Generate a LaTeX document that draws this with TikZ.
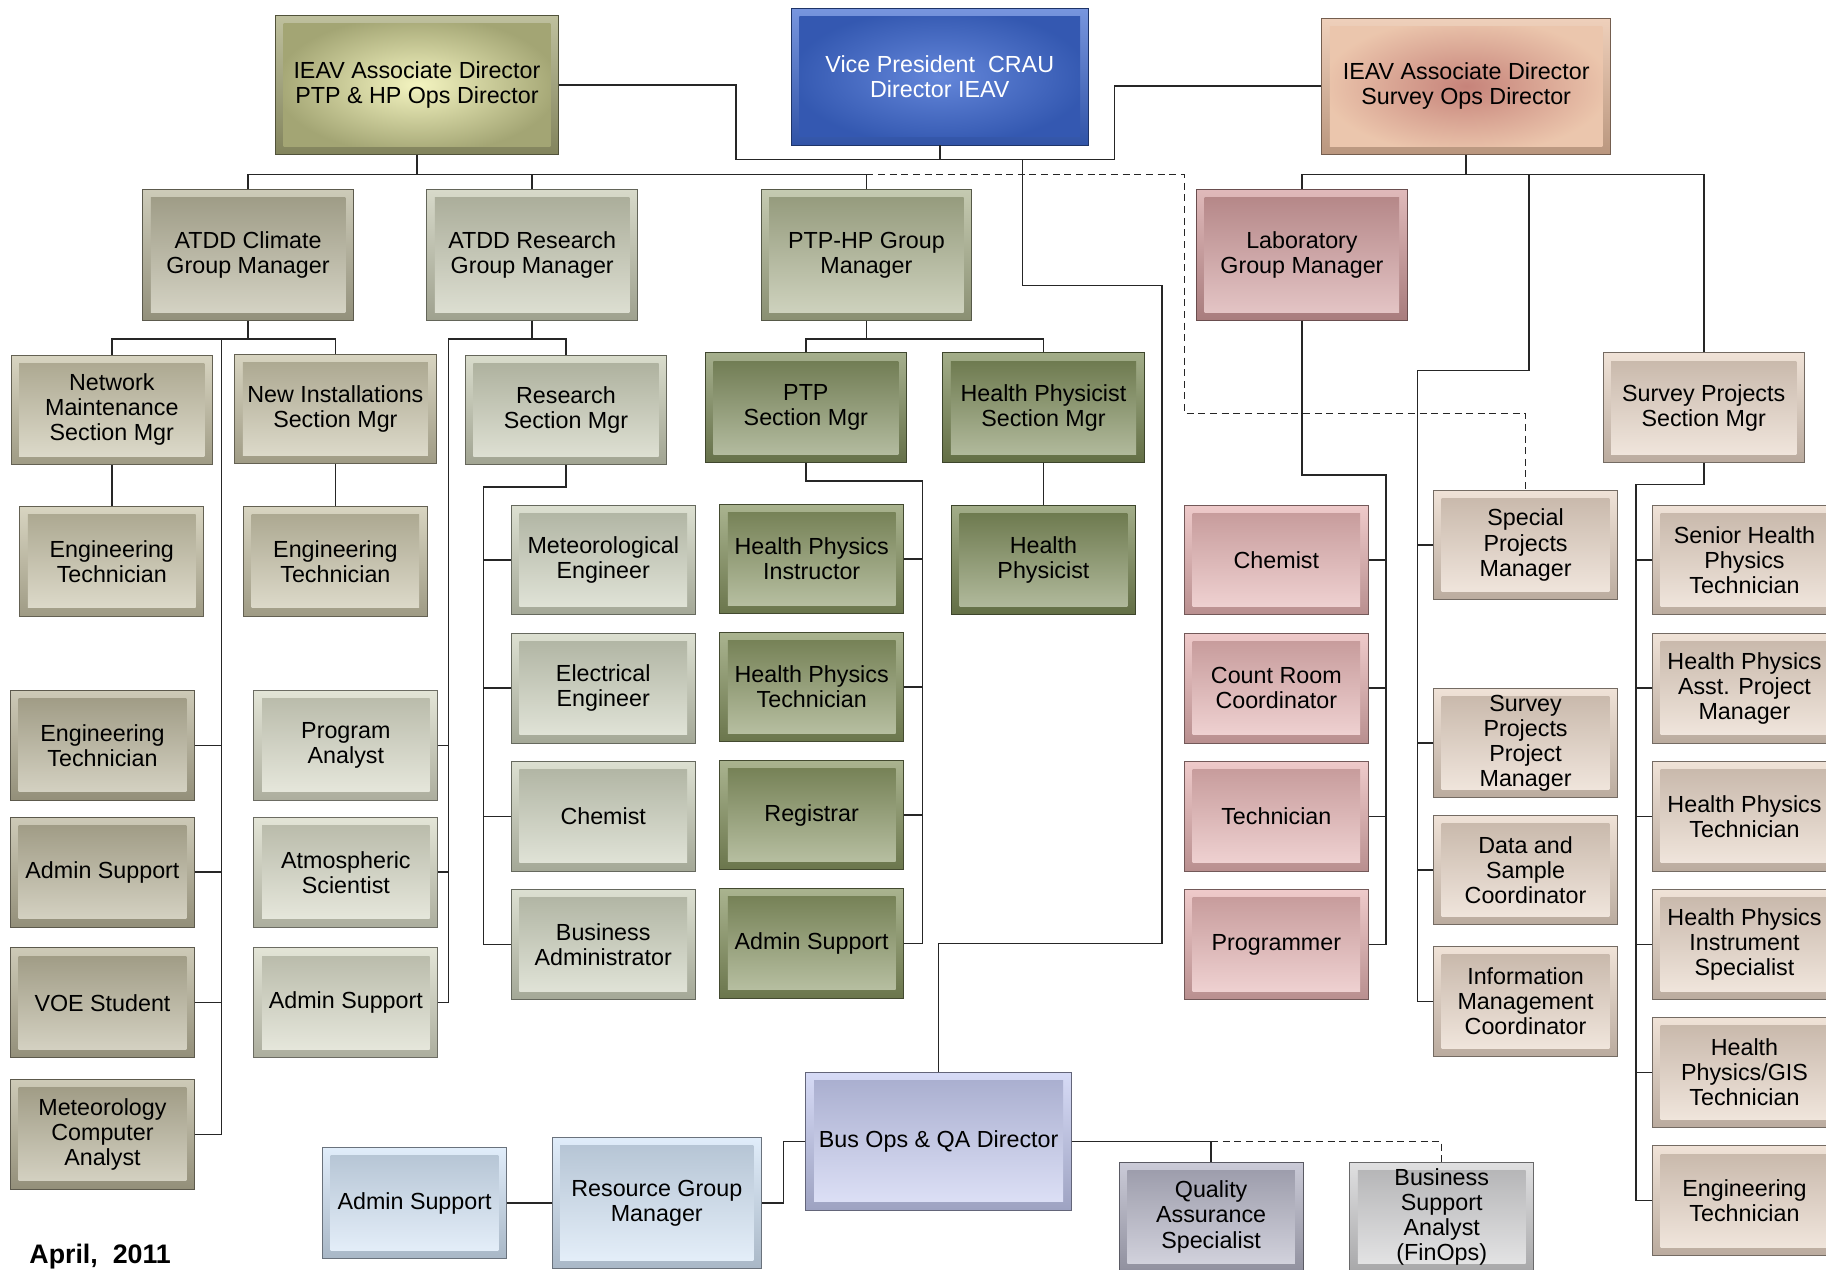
\documentclass[tikz,border=0pt]{standalone}
\usepackage{fontspec}
\setmainfont{Liberation Sans}
\usetikzlibrary{positioning}

\definecolor{ptpcol}{HTML}{A3A574}
\definecolor{vpcol}{HTML}{3D68D0}
\definecolor{svycol}{HTML}{E8BC9E}
\definecolor{svyglow}{HTML}{C6837A}
\definecolor{climcol}{HTML}{B7B49A}
\definecolor{rescol}{HTML}{C6C9B2}
\definecolor{ptphpcol}{HTML}{ACB38F}
\definecolor{labgcol}{HTML}{D29B9C}
\definecolor{labcol}{HTML}{E7B3B3}
\definecolor{khaki}{HTML}{C7C2A6}
\definecolor{leftcol}{HTML}{B8B398}
\definecolor{progcol}{HTML}{D7D9C5}
\definecolor{resseccol}{HTML}{C9CDB6}
\definecolor{metcol}{HTML}{CDD2BD}
\definecolor{ptpseccol}{HTML}{7F8D5C}
\definecolor{hpicol}{HTML}{85935F}
\definecolor{hpcol}{HTML}{7B8A56}
\definecolor{beige}{HTML}{E9D6C6}
\definecolor{busopscol}{HTML}{C5CBF2}
\definecolor{lblue}{HTML}{D3E5F8}
\definecolor{qacol}{HTML}{B4B4C6}
\definecolor{bsacol}{HTML}{D2D2D4}

\newcommand\orgfont{\fontsize{20}{21.5}\selectfont}

\begin{document}
\begin{tikzpicture}[x=1pt,y=-1pt,
  every node/.style={font=\orgfont},
  orgbox/.style={rectangle,draw=#1!50!black,line width=0.8pt,
    top color=#1!70!white,bottom color=#1!80!black,
    minimum width=158,minimum height=94,inner sep=0pt,align=center,
    path picture={\shade[top color=#1!85!black,bottom color=#1!55!white]
      ([shift={(7pt,-7pt)}]path picture bounding box.north west) rectangle
      ([shift={(-7pt,7pt)}]path picture bounding box.south east);}},
  glow/.style 2 args={path picture={\shade[inner color=#1,outer color=#2]
      ([shift={(7pt,-7pt)}]path picture bounding box.north west) rectangle
      ([shift={(-7pt,7pt)}]path picture bounding box.south east);}},
  topbox/.style={minimum width=243,minimum height=119},
  groupbox/.style={minimum width=181,minimum height=112},
  secbox/.style={minimum width=173,minimum height=94},
  link/.style={draw=black!85,line width=1.3pt},
  dotlink/.style={link,dash pattern=on 6pt off 4pt}
]
\useasboundingbox (0,0) rectangle (1568,1090);

% directors
\node[orgbox=ptpcol,topbox,glow={ptpcol!40!yellow!30!white}{ptpcol}] (ptpdir) at (358,73) {IEAV Associate Director\\PTP \& HP Ops Director};
\node[orgbox=vpcol,minimum width=255,minimum height=117,text=white,glow={vpcol!80!white}{vpcol!85!black}] (vp) at (807,66) {Vice President\ \ CRAU\\Director IEAV};
\node[orgbox=svycol,minimum width=248,minimum height=117,glow={svyglow}{svycol!85!white}] (svydir) at (1259,74) {IEAV Associate Director\\Survey Ops Director};

% group managers
\node[orgbox=climcol,groupbox] (climate) at (213,219) {ATDD Climate\\Group Manager};
\node[orgbox=rescol,groupbox] (research) at (457,219) {ATDD Research\\Group Manager};
\node[orgbox=ptphpcol,groupbox] (ptphp) at (744,219) {PTP-HP Group\\Manager};
\node[orgbox=labgcol,groupbox] (lab) at (1118,219) {Laboratory\\Group Manager};

% section managers
\node[orgbox=khaki,secbox] (netmaint) at (96,352) {Network\\Maintenance\\Section Mgr};
\node[orgbox=khaki,secbox] (newinst) at (288,351) {New Installations\\Section Mgr};
\node[orgbox=resseccol,secbox] (ressec) at (486,352) {Research\\Section Mgr};
\node[orgbox=ptpseccol,secbox] (ptpsec) at (692,350) {PTP\\Section Mgr};
\node[orgbox=hpcol,secbox] (hpsec) at (896,350) {Health Physicist\\Section Mgr};
\node[orgbox=beige,secbox] (svysec) at (1463,350) {Survey Projects\\Section Mgr};

% staff
\node[orgbox=khaki] (engA) at (96,482) {Engineering\\Technician};
\node[orgbox=khaki] (engB) at (288,482) {Engineering\\Technician};

\node[orgbox=leftcol] (engC) at (88,640) {Engineering\\Technician};
\node[orgbox=leftcol] (adminC) at (88,749) {Admin Support};
\node[orgbox=leftcol] (voe) at (88,861) {VOE Student};
\node[orgbox=leftcol] (metcomp) at (88,974) {Meteorology\\Computer\\Analyst};

\node[orgbox=progcol] (progan) at (297,640) {Program\\Analyst};
\node[orgbox=progcol] (atmsci) at (297,749) {Atmospheric\\Scientist};
\node[orgbox=progcol] (adminR) at (297,861) {Admin Support};

\node[orgbox=metcol] (meteng) at (518,481) {Meteorological\\Engineer};
\node[orgbox=metcol] (eleceng) at (518,591) {Electrical\\Engineer};
\node[orgbox=metcol] (chemR) at (518,701) {Chemist};
\node[orgbox=metcol] (busadm) at (518,811) {Business\\Administrator};

\node[orgbox=hpicol] (hpinst) at (697,480) {Health Physics\\Instructor};
\node[orgbox=hpicol] (hptech) at (697,590) {Health Physics\\Technician};
\node[orgbox=hpicol] (registrar) at (697,700) {Registrar};
\node[orgbox=hpicol] (adminP) at (697,810) {Admin Support};

\node[orgbox=hpcol] (physicist) at (896,481) {Health\\Physicist};

\node[orgbox=labcol] (chemL) at (1096,481) {Chemist};
\node[orgbox=labcol] (countroom) at (1096,591) {Count Room\\Coordinator};
\node[orgbox=labcol] (labtech) at (1096,701) {Technician};
\node[orgbox=labcol] (programmer) at (1096,811) {Programmer};

\node[orgbox=beige] (special) at (1310,468) {Special\\Projects\\Manager};
\node[orgbox=beige] (sppm) at (1310,638) {Survey\\Projects\\Project\\Manager};
\node[orgbox=beige] (datasample) at (1310,747) {Data and\\Sample\\Coordinator};
\node[orgbox=beige] (infomgmt) at (1310,860) {Information\\Management\\Coordinator};

\node[orgbox=beige] (senior) at (1498,481) {Senior Health\\Physics\\Technician};
\node[orgbox=beige] (asstpm) at (1498,591) {Health Physics\\Asst. Project\\Manager};
\node[orgbox=beige] (hptechS) at (1498,701) {Health Physics\\Technician};
\node[orgbox=beige] (instr) at (1498,811) {Health Physics\\Instrument\\Specialist};
\node[orgbox=beige] (gis) at (1498,921) {Health\\Physics/GIS\\Technician};
\node[orgbox=beige] (engS) at (1498,1031) {Engineering\\Technician};

% business operations
\node[orgbox=busopscol,minimum width=228,minimum height=118] (busops) at (806,980) {Bus Ops \& QA Director};
\node[orgbox=lblue,minimum width=180,minimum height=113] (resource) at (564,1033) {Resource Group\\Manager};
\node[orgbox=lblue,minimum height=95] (adminB) at (356,1033) {Admin Support};
\node[orgbox=qacol] (qa) at (1040,1045) {Quality\\Assurance\\Specialist};
\node[orgbox=bsacol] (bsa) at (1238,1045) {Business\\Support\\Analyst\\(FinOps)};

\node[font=\fontsize{23}{24}\bfseries] (date) at (86,1079) {April,\ \ 2011};

% bars and spines
\coordinate (topbar) at (0,150);
\coordinate (rowbar) at (0,291);
\coordinate (vpL) at (632,137);
\coordinate (vpR) at (957,137);
\coordinate (vpC) at (878,137);
\coordinate (dashA) at (1017,355);
\coordinate (climspine) at (190,291);
\coordinate (resspine) at (385,291);
\coordinate (secspine) at (415,418);
\coordinate (ptpspine) at (792,413);
\coordinate (labspine) at (1190,408);
\coordinate (spA) at (1313,150);
\coordinate (spspine) at (1217,318);
\coordinate (svyspine) at (1405,416);

% vice president
\draw[link] (ptpdir.east) -| (vpL) -- (vpR) |- (svydir.west);
\draw[link] (vp.south) -- (vp.south |- vpL);
\draw[link] (vpC) |- (998,245) -- (998,810) -| (busops.north);

% ptp & hp ops
\draw[link] (ptpdir.south) -- (ptpdir.south |- topbar);
\draw[link] (climate.north) |- (ptphp.north |- topbar) -- (ptphp.north);
\draw[link] (research.north) -- (research.north |- topbar);
\draw[dotlink] (ptphp.north |- topbar) -| (dashA) -| (special.north);

\draw[link] (climate.south) -- (climate.south |- rowbar);
\draw[link] (netmaint.north) |- (newinst.north |- rowbar) -- (newinst.north);
\draw[link] (netmaint) -- (engA);
\draw[link] (newinst) -- (engB);
\draw[link] (climspine) |- (metcomp.east);
\foreach \n in {engC,adminC,voe}
  \draw[link] (\n.east) -- (\n.east -| climspine);

\draw[link] (research.south) -- (research.south |- rowbar);
\draw[link] (resspine) -| (ressec.north);
\draw[link] (resspine) |- (adminR.east);
\foreach \n in {progan,atmsci}
  \draw[link] (\n.east) -- (\n.east -| resspine);
\draw[link] (ressec.south) |- (secspine) |- (busadm.west);
\foreach \n in {meteng,eleceng,chemR}
  \draw[link] (\n.west) -- (\n.west -| secspine);

\draw[link] (ptphp.south) -- (ptphp.south |- rowbar);
\draw[link] (ptpsec.north) |- (hpsec.north |- rowbar) -- (hpsec.north);
\draw[link] (ptpsec.south) |- (ptpspine) |- (adminP.east);
\foreach \n in {hpinst,hptech,registrar}
  \draw[link] (\n.east) -- (\n.east -| ptpspine);
\draw[link] (hpsec) -- (physicist);

% survey ops
\draw[link] (svydir.south) -- (svydir.south |- topbar);
\draw[link] (lab.north) |- (svysec.north |- topbar) -- (svysec.north);
\draw[link] (spA) |- (spspine) |- (infomgmt.west);
\foreach \n in {special,sppm,datasample}
  \draw[link] (\n.west) -- (\n.west -| spspine);
\draw[link] (lab.south) |- (labspine) |- (programmer.east);
\foreach \n in {chemL,countroom,labtech}
  \draw[link] (\n.east) -- (\n.east -| labspine);
\draw[link] (svysec.south) |- (svyspine) |- (engS.west);
\foreach \n in {senior,asstpm,hptechS,instr,gis}
  \draw[link] (\n.west) -- (\n.west -| svyspine);

% business operations
\draw[link] (busops.east) -| (qa.north);
\draw[dotlink] (qa.north |- busops.east) -| (bsa.north);
\draw[link] (busops.west) -- ++(-19,0) |- (resource.east);
\draw[link] (resource) -- (adminB);
\end{tikzpicture}
\end{document}
